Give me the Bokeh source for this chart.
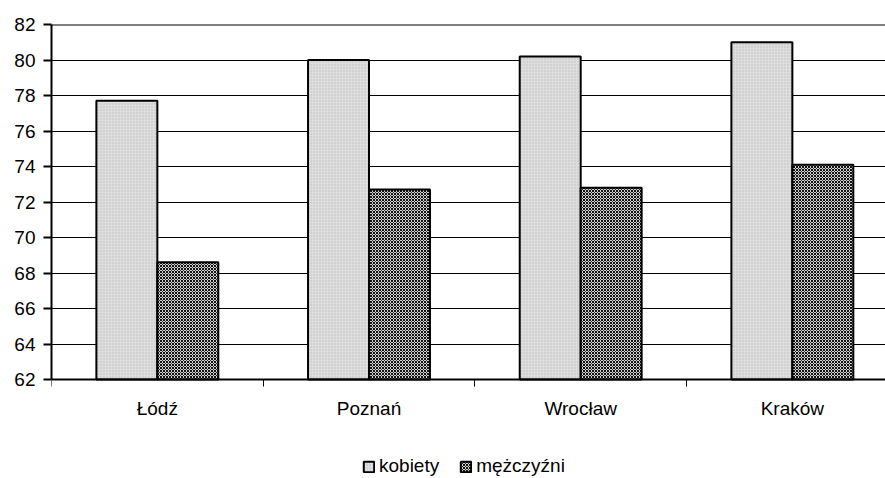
import numpy as np
from bokeh.plotting import figure
from bokeh.models import (Range1d, FixedTicker, Legend, LegendItem, Span,
                          LinearAxis)
from bokeh.embed import file_html
from bokeh.resources import INLINE

# Life expectancy by city (years)
cities = ["Łódź", "Poznań", "Wrocław", "Kraków"]
kobiety = [77.7, 80.0, 80.2, 81.0]
mezczyzni = [68.6, 72.7, 72.8, 74.1]
y_ticks = [62, 64, 66, 68, 70, 72, 74, 76, 78, 80, 82]

FONT = "Liberation Sans"
FS = "19px"
idx = np.arange(len(cities))
bar_w = 0.288

Y0, Y1 = 62, 82
PLOT_H = 355          # pixel height of the 62..82 value band
FRAME_H = 478 - 24    # frame runs to the bottom edge; labels and legend sit inside it
y_lo = Y0 - (Y1 - Y0) * (FRAME_H - PLOT_H) / PLOT_H

p = figure(width=885, height=478, output_backend="svg", toolbar_location=None,
           x_range=Range1d(0, 3.94), y_range=Range1d(y_lo, Y1),
           x_axis_location=None,
           min_border_left=51, min_border_right=0, min_border_top=24,
           min_border_bottom=0)
p.outline_line_color = None
p.background_fill_color = "white"
p.border_fill_color = "white"

# bars, two per city side by side
r_k = p.vbar(x=idx + 0.5 - bar_w / 2, top=kobiety, bottom=Y0, width=bar_w,
             fill_color="#dedede", line_color="black", line_width=2,
             hatch_pattern="dot", hatch_color="#bdbdbd", hatch_scale=3,
             hatch_weight=1)
r_m = p.vbar(x=idx + 0.5 + bar_w / 2, top=mezczyzni, bottom=Y0, width=bar_w,
             fill_color="#d4d4d4", line_color="black", line_width=2,
             hatch_pattern="x", hatch_color="#111111", hatch_scale=3,
             hatch_weight=1)

# horizontal grid
p.xgrid.visible = False
p.ygrid.ticker = FixedTicker(ticks=y_ticks[1:-1])
p.ygrid.grid_line_color = "black"
p.ygrid.grid_line_width = 1
p.ygrid.level = "underlay"

# top frame edge
p.add_layout(Span(location=Y1, dimension="width", line_color="black",
                  line_width=2))

# y axis
p.yaxis.ticker = FixedTicker(ticks=y_ticks)
p.yaxis.bounds = (Y0, Y1)
p.yaxis.axis_line_width = 2
p.yaxis.axis_line_color = "black"
p.yaxis.major_tick_line_width = 2
p.yaxis.major_tick_out = 8
p.yaxis.major_tick_in = 0
p.yaxis.minor_tick_line_color = None
p.yaxis.major_label_text_font = FONT
p.yaxis.major_label_text_font_size = FS
p.yaxis.major_label_text_color = "black"
p.yaxis.major_label_standoff = 8

# x axis pinned at y = 62: labels at category centres, ticks at boundaries
xaxis = LinearAxis(fixed_location=Y0,
                   ticker=FixedTicker(ticks=list(idx + 0.5), minor_ticks=list(idx)),
                   major_label_overrides={float(i + 0.5): c for i, c in zip(idx, cities)},
                   axis_line_width=2, axis_line_color="black",
                   major_tick_line_color=None,
                   minor_tick_out=7, minor_tick_in=0, minor_tick_line_width=1,
                   minor_tick_line_color="black",
                   major_label_text_font=FONT, major_label_text_font_size=FS,
                   major_label_text_color="black", major_label_standoff=11)
p.add_layout(xaxis, "below")

legend = Legend(items=[LegendItem(label="kobiety", renderers=[r_k]),
                       LegendItem(label="mężczyźni", renderers=[r_m])],
                orientation="horizontal", location=(311, 1),
                glyph_width=13, glyph_height=13, label_standoff=4,
                spacing=20, padding=0, margin=0,
                border_line_color=None, background_fill_alpha=0,
                label_text_font=FONT, label_text_font_size=FS,
                label_text_color="black")
p.add_layout(legend)

open("out.html", "w").write(file_html(p, INLINE))
